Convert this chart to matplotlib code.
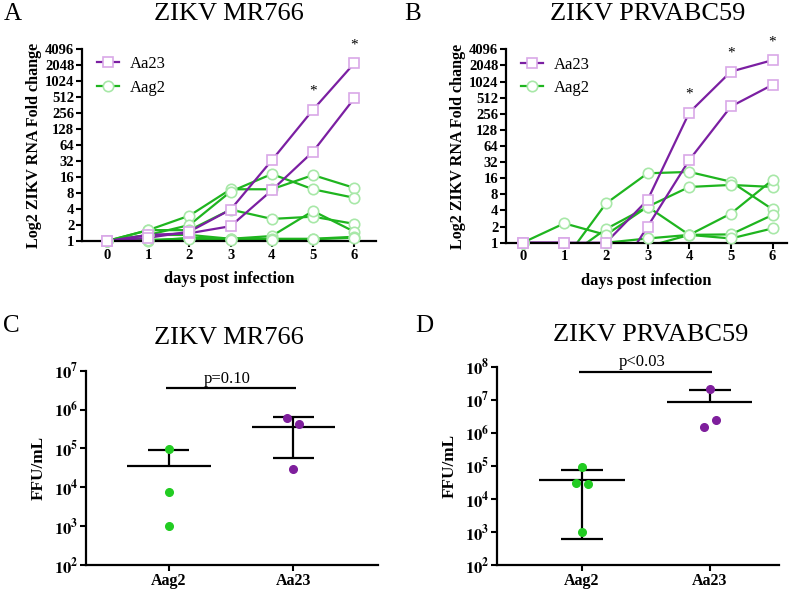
import numpy as np
import matplotlib
matplotlib.use('Agg')
import matplotlib.pyplot as plt
from matplotlib.lines import Line2D

plt.rcParams['font.family'] = ['Liberation Serif', 'DejaVu Serif']
plt.rcParams['mathtext.fontset'] = 'stix'

# ---- data ----
days = [0, 1, 2, 3, 4, 5, 6]

mr766_aa23 = [
    [1, 1.3, 1.4, 1.9, 9, 48, 480],
    [1, 1.15, 1.5, 3.9, 33, 294, 2200],
]
mr766_aag2 = [
    [1, 1.6, 3.0, 9.4, 9.4, 17.4, 10],
    [1, 1.3, 2.0, 8.5, 18.2, 9.4, 6.5],
    [1, 1.6, 1.6, 3.9, 2.6, 2.87, 2.1],
    [1, 1.3, 1.3, 1.1, 1.24, 3.67, 1.5],
    [1, 1.0, 1.15, 1.1, 1.1, 1.1, 1.2],
    [1, 1.05, 1.1, 1.05, 1.05, 1.08, 1.15],
]
prv_aa23 = [
    [1, 1, 1, 6.3, 269, 1570, 2570],
    [1, 1, 0.125, 2.0, 35, 350, 890],
]
prv_aag2 = [
    [1, 0.47, 5.4, 19.8, 21, 13.8, 4.2],
    [1, 0.5, 1.8, 4.7, 11, 12, 11],
    [1, 2.3, 1.4, 4.7, 1.4, 1.43, 3.3],
    [1, 0.5, 1.0, 1.2, 1.4, 3.5, 14.9],
    [1, 0.5, 0.6, 0.85, 1.4, 1.2, 1.85],
]
stars_a = [5, 6]
stars_b = [4, 5, 6]

groups = ['Aag2', 'Aa23']
c_aag2 = [9.7e4, 7.4e3, 1.03e3]
c_aa23 = [5.9e5, 4.2e5, 2.9e4]
c_mean = [3.55e4, 3.46e5]
c_upper = [8.9e4, 6.4e5]
c_lower = [None, 5.6e4]
c_p = 'p=0.10'

d_aag2 = [9.5e4, 3.1e4, 2.8e4, 9.8e2]
d_aa23 = [2.1e7, 1.5e6, 2.4e6]
d_mean = [3.7e4, 8.3e6]
d_upper = [7.4e4, 1.96e7]
d_lower = [6.0e2, None]
d_p = 'p<0.03'

purple = '#7B1FA2'
purple_edge = '#D9A8E8'
green = '#1FB51F'
green_edge = '#A8E8A8'
dot_green = '#22CC22'
dot_purple = '#7E1E9C'

fig = plt.figure(figsize=(8, 5.94), dpi=100)


def style_axes(ax, size):
    for s in ['top', 'right']:
        ax.spines[s].set_visible(False)
    for s in ['left', 'bottom']:
        ax.spines[s].set_linewidth(1.6)
    ax.tick_params(direction='out', length=4, width=1.5, labelsize=size, pad=1.5)


def growth_panel(ax, aa23, aag2, stars, xlim):
    for vals in aag2:
        v = np.array(vals, dtype=float)
        ax.plot(days, v, '-', color=green, lw=1.6, zorder=2)
        m = v >= 1
        ax.plot(np.array(days)[m], v[m], 'o', ms=7.5, mfc='white', mec=green_edge,
                mew=1.2, clip_on=False, zorder=3)
    for vals in aa23:
        v = np.array(vals, dtype=float)
        ax.plot(days, v, '-', color=purple, lw=1.6, zorder=2)
        m = v >= 1
        ax.plot(np.array(days)[m], v[m], 's', ms=7.5, mfc='white', mec=purple_edge,
                mew=1.2, clip_on=False, zorder=3)
    ax.set_yscale('log', base=2)
    ax.set_ylim(1, 4096)
    ax.set_xlim(*xlim)
    yt = [2 ** i for i in range(13)]
    ax.set_yticks(yt)
    ax.set_yticklabels([str(t) for t in yt], fontweight='bold')
    ax.minorticks_off()
    ax.set_xticks(days)
    ax.set_xticklabels([str(d) for d in days], fontweight='bold')
    style_axes(ax, 10.5)
    for d in stars:
        top = max(v[d] for v in aa23)
        ax.text(d, top * 2 ** 0.75, '*', ha='center', va='bottom', fontsize=11, clip_on=False)
    ax.set_xlabel('days post infection', fontsize=11.8, fontweight='bold', labelpad=7)
    ax.set_ylabel('Log2 ZIKV RNA Fold change', fontsize=11.6, fontweight='bold', labelpad=2)
    handles = [
        Line2D([], [], color=purple, lw=1.6, marker='s', ms=7.5, mfc='white',
               mec=purple_edge, mew=1.2),
        Line2D([], [], color=green, lw=1.6, marker='o', ms=7.5, mfc='white',
               mec=green_edge, mew=1.2),
    ]
    ax.legend(handles, ['Aa23', 'Aag2'], loc='upper left', bbox_to_anchor=(0.0, 1.04),
              frameon=False, fontsize=12, handlelength=1.3, labelspacing=0.45,
              handletextpad=0.65)


def titer_panel(ax, aag2, aa23, mean, upper, lower, ylim, xlim, jit):
    pts = [aag2, aa23]
    cols = [dot_green, dot_purple]
    for i in range(2):
        ax.plot(np.full(len(pts[i]), i) + np.array(jit[i]), pts[i], 'o', ms=5.5,
                color=cols[i], zorder=3, clip_on=False)
        ax.hlines(mean[i], i - 0.335, i + 0.335, color='black', lw=1.6, zorder=2)
        ax.vlines(i, mean[i], upper[i], color='black', lw=1.6, zorder=2)
        ax.hlines(upper[i], i - 0.165, i + 0.165, color='black', lw=1.6, zorder=2)
        if lower[i] is not None:
            ax.vlines(i, lower[i], mean[i], color='black', lw=1.6, zorder=2)
            ax.hlines(lower[i], i - 0.165, i + 0.165, color='black', lw=1.6, zorder=2)
    ax.set_yscale('log')
    ax.set_ylim(*ylim)
    ax.set_xlim(*xlim)
    lo, hi = int(np.log10(ylim[0])), int(np.log10(ylim[1]))
    ax.set_yticks([10.0 ** k for k in range(lo, hi + 1)])
    ax.set_yticklabels([r'$\mathbf{10^{%d}}$' % k for k in range(lo, hi + 1)])
    ax.minorticks_off()
    ax.set_xticks([0, 1])
    ax.set_xticklabels(groups, fontweight='bold')
    style_axes(ax, 11.5)
    ax.tick_params(axis='y', labelsize=12)
    ax.set_ylabel('FFU/mL', fontsize=12.4, fontweight='bold', labelpad=5)


# panel A
axA = fig.add_axes([0.1025, 0.5943, 0.3675, 0.3232])
growth_panel(axA, mr766_aa23, mr766_aag2, stars_a, (-0.61, 6.53))
# panel B
axB = fig.add_axes([0.6325, 0.5914, 0.3509, 0.3256])
growth_panel(axB, prv_aa23, prv_aag2, stars_b, (-0.4, 6.34))

# panel C
axC = fig.add_axes([0.1075, 0.0488, 0.3646, 0.3272])
titer_panel(axC, c_aag2, c_aa23, c_mean, c_upper, c_lower, (1e2, 1e7),
            (-0.668, 1.68), [[0, 0, 0], [-0.046, 0.05, 0]])
axC.hlines(3.5e6, -0.02, 1.02, color='black', lw=1.6)
axC.text(0.47, 3.9e6, c_p, ha='center', va='bottom', fontsize=12)

# panel D
axD = fig.add_axes([0.621, 0.0488, 0.353, 0.3339])
titer_panel(axD, d_aag2, d_aa23, d_mean, d_upper, d_lower, (1e2, 1e8),
            (-0.666, 1.545), [[0, -0.047, 0.047, 0], [0, -0.042, 0.052]])
axD.hlines(7e7, -0.02, 1.02, color='black', lw=1.6)
axD.text(0.47, 7.8e7, d_p, ha='center', va='bottom', fontsize=12)

# titles and panel letters
fig.text(229 / 800, 1 - 14 / 594, 'ZIKV MR766', ha='center', va='center', fontsize=19)
fig.text(648 / 800, 1 - 14 / 594, 'ZIKV PRVABC59', ha='center', va='center', fontsize=19)
fig.text(229 / 800, 1 - 338 / 594, 'ZIKV MR766', ha='center', va='center', fontsize=19)
fig.text(651 / 800, 1 - 335 / 594, 'ZIKV PRVABC59', ha='center', va='center', fontsize=19)
fig.text(4 / 800, 1 - 14 / 594, 'A', ha='left', va='center', fontsize=18)
fig.text(404 / 800, 1 - 14 / 594, 'B', ha='left', va='center', fontsize=18)
fig.text(3 / 800, 1 - 326 / 594, 'C', ha='left', va='center', fontsize=18)
fig.text(415 / 800, 1 - 326 / 594, 'D', ha='left', va='center', fontsize=18)

fig.savefig('out.png', dpi=100)
